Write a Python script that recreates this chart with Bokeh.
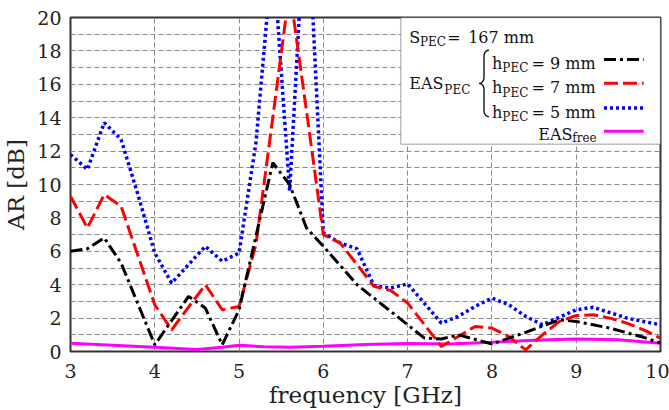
import math
from bokeh.plotting import figure
from bokeh.models import FixedTicker, Label, BoxAnnotation, Range1d
from bokeh.embed import file_html
from bokeh.resources import INLINE

# ---------------- data ----------------
f_h9 = [3.0, 3.2, 3.4, 3.6, 4.0, 4.4, 4.6, 4.8, 5.0, 5.4, 5.6, 5.8, 6.0, 6.4, 6.7,
        7.0, 7.2, 7.4, 7.6, 8.0, 8.4, 8.8, 9.0, 9.4, 9.8, 10.0]
ar_h9 = [6.0, 6.15, 6.8, 5.3, 0.4, 3.3, 2.6, 0.4, 2.5, 11.3, 10.0, 7.4, 6.3, 4.0, 2.8,
         1.6, 0.8, 0.75, 1.0, 0.45, 1.15, 1.9, 1.8, 1.4, 0.85, 0.5]

f_h7 = [3.0, 3.2, 3.4, 3.6, 4.0, 4.2, 4.6, 4.8, 5.0, 5.2, 5.4, 5.6, 5.8, 6.0, 6.2,
        6.4, 6.6, 6.8, 7.0, 7.4, 7.6, 7.8, 8.0, 8.2, 8.4, 8.6, 8.8, 9.0, 9.2, 9.4,
        9.6, 9.8, 10.0]
ar_h7 = [9.3, 7.4, 9.4, 8.7, 2.8, 1.3, 4.0, 2.5, 2.7, 6.4, 14.0, 21.7, 14.4, 7.0, 6.5,
         5.2, 3.9, 3.65, 2.9, 0.3, 0.9, 1.5, 1.4, 0.9, 0.1, 1.0, 1.8, 2.15, 2.2, 2.0,
         1.7, 1.3, 0.8]

f_h5 = [3.0, 3.2, 3.4, 3.6, 3.8, 4.0, 4.2, 4.6, 4.8, 5.0, 5.2, 5.4, 5.6, 5.8, 6.0,
        6.2, 6.4, 6.6, 6.8, 7.0, 7.4, 7.6, 7.8, 8.0, 8.2, 8.4, 8.6, 8.8, 9.0, 9.2,
        9.6, 10.0]
ar_h5 = [11.8, 10.9, 13.7, 12.7, 9.4, 5.9, 4.1, 6.3, 5.4, 5.9, 12.5, 24.0, 9.6, 28.0, 7.1,
         6.5, 6.15, 3.95, 3.8, 4.05, 1.7, 2.1, 2.7, 3.2, 2.8, 2.1, 1.6, 2.05, 2.5, 2.65,
         2.0, 1.6]

f_free = [3.0, 3.5, 4.0, 4.5, 4.8, 5.0, 5.3, 5.6, 6.0, 6.5, 7.0, 7.5, 8.0, 8.5, 9.0, 9.5, 10.0]
ar_free = [0.5, 0.38, 0.26, 0.12, 0.25, 0.37, 0.28, 0.26, 0.32, 0.42, 0.48, 0.45, 0.55,
           0.68, 0.75, 0.7, 0.5]

x_ticks = [3, 4, 5, 6, 7, 8, 9, 10]
y_ticks = [0, 2, 4, 6, 8, 10, 12, 14, 16, 18, 20]
y_minor = [1, 3, 5, 7, 9, 11, 13, 15, 17, 19]

FONT = "DejaVu Serif"
BLACK, RED, BLUE, MAGENTA = "#000000", "#ff0000", "#0000ff", "#ff00ff"

# ---------------- figure ----------------
p = figure(width=669, height=410, x_range=Range1d(3, 10), y_range=Range1d(0, 20),
           output_backend="svg", toolbar_location=None,
           min_border_left=65, min_border_right=9, min_border_top=17, min_border_bottom=56)
p.background_fill_color = "white"
p.border_fill_color = "white"
p.outline_line_color = "#333333"
p.outline_line_width = 2

p.xaxis.ticker = FixedTicker(ticks=x_ticks)
p.yaxis.ticker = FixedTicker(ticks=y_ticks, minor_ticks=y_minor)
p.xgrid.ticker = FixedTicker(ticks=x_ticks)
for ax in (p.xaxis, p.yaxis):
    ax.axis_line_color = None
    ax.major_tick_line_color = None
    ax.minor_tick_line_color = None
    ax.major_label_text_font = FONT
    ax.major_label_text_font_size = "19px"
    ax.major_label_text_color = "#222222"
    ax.axis_label_text_font = FONT
    ax.axis_label_text_font_size = "23px"
    ax.axis_label_text_font_style = "normal"
    ax.axis_label_text_color = "#222222"
p.xaxis.axis_label = "frequency [GHz]"
p.yaxis.axis_label = "AR [dB]"
p.xaxis.major_label_standoff = 6
p.xaxis.axis_label_standoff = 1
p.yaxis.major_label_standoff = 3
p.yaxis.axis_label_standoff = 5

for g in (p.xgrid, p.ygrid):
    g.grid_line_color = "#8a8a8a"
    g.grid_line_dash = "5 3"
    g.grid_line_width = 1
p.ygrid.minor_grid_line_color = "#8a8a8a"
p.ygrid.minor_grid_line_dash = "5 3"
p.ygrid.minor_grid_line_width = 1

# ---------------- curves ----------------
p.line(f_free, ar_free, line_color=MAGENTA, line_width=3)
p.line(f_h5, ar_h5, line_color=BLUE, line_width=3.5, line_dash="3 3")
p.line(f_h7, ar_h7, line_color=RED, line_width=3, line_dash="14 5")
p.line(f_h9, ar_h9, line_color=BLACK, line_width=3, line_dash="12 4 3 4")

# ---------------- hand-drawn legend ----------------
def fx(px):
    return 3 + (px - 65) / 85.0

def fy(py):
    return (354 - py) / 16.85

p.add_layout(BoxAnnotation(left=fx(398), right=10, bottom=fy(145), top=20,
                           fill_color="white", fill_alpha=1.0,
                           line_color="#222222", line_width=1.5))

texts = [
    ("S", 406.7, 37, 16), ("PEC", 417.5, 41.5, 12), ("=", 445, 37, 16), ("167 mm", 466, 37, 16),
    ("EAS", 406.7, 83.3, 16), ("PEC", 442, 90, 12),
    ("h", 490, 63.3, 16), ("PEC", 500.5, 68, 12), ("= 9 mm", 530, 63.3, 16),
    ("h", 490, 88, 16), ("PEC", 500.5, 92.7, 12), ("= 7 mm", 530, 88, 16),
    ("h", 490, 112.7, 16), ("PEC", 500.5, 117.3, 12), ("= 5 mm", 530, 112.7, 16),
    ("EAS", 536.7, 135, 16), ("free", 571, 138.5, 12),
]
for t, px, py, fs in texts:
    p.add_layout(Label(x=fx(px), y=fy(py), text=t, text_font=FONT,
                       text_font_size=f"{fs}px", text_color="#111111",
                       text_baseline="alphabetic", text_align="left"))

samples = [(BLACK, 59.3, "12 4 3 4", 3), (RED, 83.3, "14 5", 3),
           (BLUE, 108.3, "3 3", 3.5), (MAGENTA, 131.7, None, 3)]
for col, py, dash, w in samples:
    kw = dict(line_color=col, line_width=w)
    if dash:
        kw["line_dash"] = dash
    r = p.line([fx(603), fx(643)], [fy(py), fy(py)], **kw)
    r.level = "overlay"

# curly brace
bx, btop, bmid, bbot = 487.0, 50.0, 83.5, 117.0
rx, ry = 5.0, 6.0
pts = []
for i in range(11):
    t = (math.pi / 2) * i / 10
    pts.append((bx - rx * math.sin(t), btop + ry - ry * math.cos(t)))
for i in range(11):
    t = (math.pi / 2) * i / 10
    pts.append((bx - rx - rx * (1 - math.cos(t)), bmid - ry + ry * math.sin(t)))
lower = [(x, 2 * bmid - y) for x, y in reversed(pts)]
path = pts + lower
r = p.line([fx(x) for x, _ in path], [fy(y) for _, y in path], line_color="#111111", line_width=1.4)
r.level = "overlay"

open("out.html", "w").write(file_html(p, INLINE))
